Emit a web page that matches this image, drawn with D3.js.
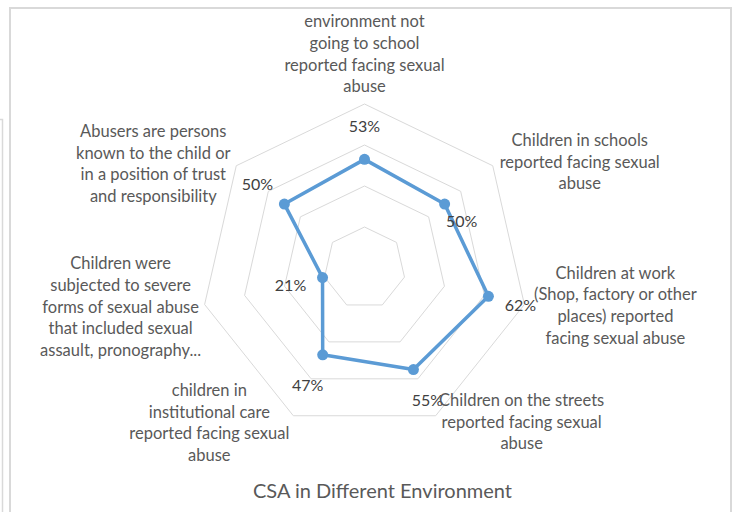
<!DOCTYPE html>
<html>
<head>
<meta charset="utf-8">
<script src="https://cdn.jsdelivr.net/npm/d3@7"></script>
<style>
  html, body { margin: 0; padding: 0; background: #fff; }
  svg { display: block; }
</style>
</head>
<body>
<div id="chart"></div>
<script>
// Chart data
var categories = [
  ["environment not", "going to school", "reported facing sexual", "abuse"],
  ["Children in schools", "reported facing sexual", "abuse"],
  ["Children at work", "(Shop, factory or other", "places) reported", "facing sexual abuse"],
  ["Children on the streets", "reported facing sexual", "abuse"],
  ["children in", "institutional care", "reported facing sexual", "abuse"],
  ["Children were", "subjected to severe", "forms of sexual abuse", "that included sexual", "assault, pronography..."],
  ["Abusers are persons", "known to the child or", "in a position of trust", "and responsibility"]
];
var values = [53, 50, 62, 55, 47, 21, 50];
var ringTicks = [20, 40, 60, 80];
var chartTitle = "CSA in Different Environment";

// Layout
var width = 737;
var height = 512;
var cx = 364.5, cy = 268, radius = 164;
var lineH = 21.7;

// Category label block centre, relative to the outer ring vertex
var labelNudge = [[0, -50], [87, -4], [91, 1], [86, 6], [-84, 7], [-84, 2.5], [-83, -2]];
// Data label centre, relative to the point
var valueNudge = [[0, -33], [17, 17], [32, 9], [14, 31], [-15, 31], [-32, 8], [-27, -20]];

var svg = d3.select("#chart").append("svg")
    .attr("width", width)
    .attr("height", height);

// Frames (chart border and the edge of a chart behind it)
svg.append("path")
    .attr("d", "M0,119.5H2.5V" + height)
    .attr("fill", "none")
    .attr("stroke", "#d9d9d9")
    .attr("stroke-width", 1.5);

svg.append("rect")
    .attr("x", 10).attr("y", 8)
    .attr("width", 721).attr("height", 600)
    .attr("fill", "#fff")
    .attr("stroke", "#d9d9d9")
    .attr("stroke-width", 2);

var r = d3.scaleLinear().domain([0, 80]).range([0, radius]);
var angle = d3.scaleLinear().domain([0, categories.length]).range([-Math.PI / 2, 1.5 * Math.PI]);

function px(i, v) { return cx + r(v) * Math.cos(angle(i)); }
function py(i, v) { return cy + r(v) * Math.sin(angle(i)); }

var g = svg.append("g");

// Grid rings
g.selectAll(".ring")
  .data(ringTicks)
  .enter().append("polygon")
    .attr("class", "ring")
    .attr("points", function(t) {
      return d3.range(categories.length).map(function(i) { return px(i, t) + "," + py(i, t); }).join(" ");
    })
    .attr("fill", "none")
    .attr("stroke", "#d9d9d9")
    .attr("stroke-width", 1);

// Series line
var line = d3.line()
    .x(function(d, i) { return px(i, d); })
    .y(function(d, i) { return py(i, d); })
    .curve(d3.curveLinearClosed);

g.append("path")
    .datum(values)
    .attr("d", line)
    .attr("fill", "none")
    .attr("stroke", "#5b9bd5")
    .attr("stroke-width", 3.5)
    .attr("stroke-linejoin", "round");

g.selectAll(".dot")
  .data(values)
  .enter().append("circle")
    .attr("class", "dot")
    .attr("cx", function(d, i) { return px(i, d); })
    .attr("cy", function(d, i) { return py(i, d); })
    .attr("r", 5.5)
    .attr("fill", "#5b9bd5");

// Data labels
g.selectAll(".val")
  .data(values)
  .enter().append("text")
    .attr("class", "val")
    .attr("x", function(d, i) { return px(i, d) + valueNudge[i][0]; })
    .attr("y", function(d, i) { return py(i, d) + valueNudge[i][1]; })
    .attr("dy", "0.35em")
    .attr("text-anchor", "middle")
    .style("font-family", "Lato, sans-serif")
    .style("font-size", "16px")
    .style("fill", "#404040")
    .text(function(d) { return d + "%"; });

// Category labels
var cat = g.selectAll(".cat")
  .data(categories)
  .enter().append("text")
    .attr("class", "cat")
    .attr("text-anchor", "middle")
    .style("font-family", "Lato, sans-serif")
    .style("font-size", "16.5px")
    .style("fill", "#595959");

cat.each(function(lines, i) {
  var x = px(i, 80) + labelNudge[i][0];
  var y0 = py(i, 80) + labelNudge[i][1] - (lines.length - 1) * lineH / 2;
  d3.select(this).selectAll("tspan")
    .data(lines)
    .enter().append("tspan")
      .attr("x", x)
      .attr("y", function(d, k) { return y0 + k * lineH; })
      .attr("dy", "0.35em")
      .text(function(d) { return d; });
});

// Title
svg.append("text")
    .attr("x", 382.5)
    .attr("y", 491)
    .attr("dy", "0.35em")
    .attr("text-anchor", "middle")
    .style("font-family", "Lato, sans-serif")
    .style("font-size", "20px")
    .style("fill", "#595959")
    .text(chartTitle);
</script>
</body>
</html>
